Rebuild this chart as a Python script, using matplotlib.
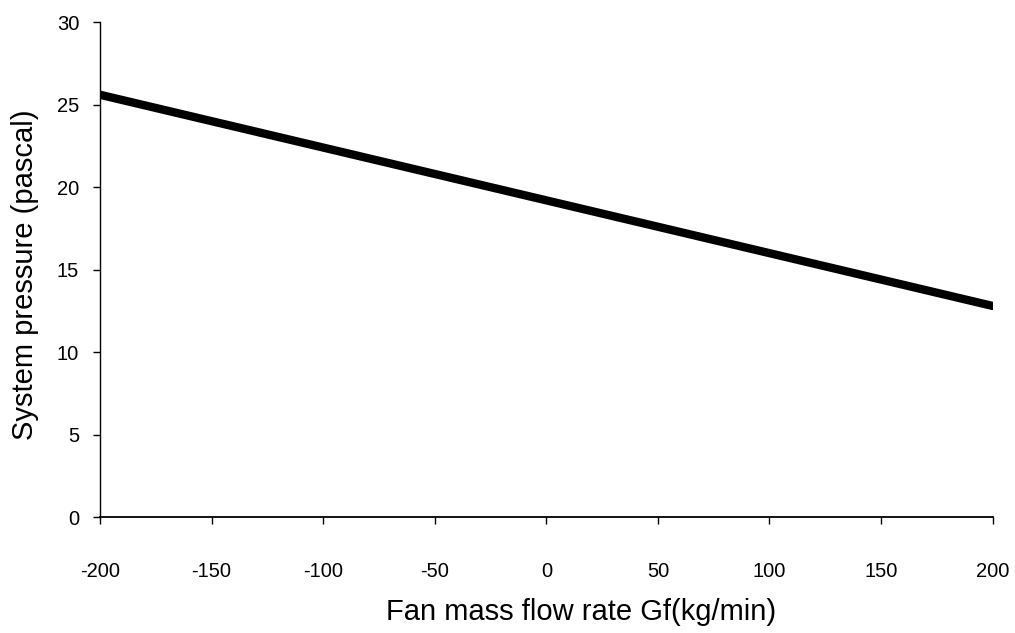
import numpy as np
from matplotlib import pyplot as plt

plt.rcParams['font.family'] = ['Liberation Sans', 'DejaVu Sans']
plt.rcParams['axes.unicode_minus'] = False

# datos
flujo = [-200, -150, -100, -50, 0, 50, 100, 150, 200]
presion = [25.6, 24.0, 22.4, 20.8, 19.2, 17.6, 16.0, 14.4, 12.8]

fig = plt.figure(figsize=(10.15, 6.33), dpi=100)
ax = fig.add_axes([0.0985, 0.183, 0.8795, 0.782])

ax.plot(flujo, presion, color="black", linewidth=6, solid_capstyle="round")

ax.set_xlim(-200, 200)
ax.set_ylim(0, 30)
ax.set_xticks(np.arange(-200, 201, 50))
ax.set_yticks(np.arange(0, 31, 5))

ax.spines["top"].set_visible(False)
ax.spines["right"].set_visible(False)
ax.spines["left"].set_linewidth(1.0)
ax.spines["bottom"].set_linewidth(1.3)

ax.tick_params(axis="x", direction="out", length=5, width=1, pad=27, labelsize=14.5)
ax.tick_params(axis="y", direction="out", length=5, width=1, pad=10, labelsize=14.5)

ax.set_xlabel("Fan mass flow rate Gf(kg/min)", fontsize=21)
ax.set_ylabel("System pressure (pascal)", fontsize=21)
ax.xaxis.set_label_coords(0.539, -0.163)
ax.yaxis.set_label_coords(-0.068, 0.49)

plt.savefig("out.png", dpi=100)
